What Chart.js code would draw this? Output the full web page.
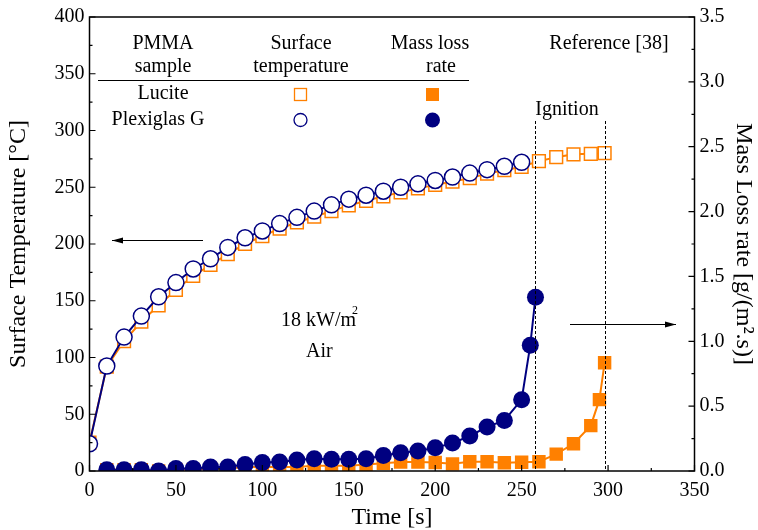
<!DOCTYPE html>
<html>
<head>
<meta charset="utf-8">
<script src="https://cdn.jsdelivr.net/npm/chart.js@4.4.1/dist/chart.umd.min.js"></script>
<style>
  body { margin: 0; background: #fff; }
  canvas { display: block; }
</style>
</head>
<body>
<canvas id="grafico" width="758" height="530"></canvas>
<script>
// Dados
const tempoPlexiT = [0, 10, 20, 30, 40, 50, 60, 70, 80, 90, 100, 110, 120, 130, 140, 150, 160, 170, 180, 190, 200, 210, 220, 230, 240, 250];
const tempPlexi = [24, 92.5, 118, 136.5, 153.5, 166, 178, 187, 197, 205.5, 211.5, 218, 223.5, 229, 234.5, 239.5, 243, 246.5, 250, 253, 256, 259, 262.5, 265.5, 268.5, 272];

const tempoLuciteT = [0, 10, 20, 30, 40, 50, 60, 70, 80, 90, 100, 110, 120, 130, 140, 150, 160, 170, 180, 190, 200, 210, 220, 230, 240, 250, 260, 270, 280, 290, 298];
const tempLucite = [25, 92, 114.5, 131.5, 146, 159.5, 172, 181.5, 191, 200, 207, 213.5, 219, 224, 229, 234, 238, 242, 245.5, 249, 252, 255, 258, 262, 265, 268, 273, 276.5, 279, 279.5, 280];

const tempoPlexiM = [10, 20, 30, 40, 50, 60, 70, 80, 90, 100, 110, 120, 130, 140, 150, 160, 170, 180, 190, 200, 210, 220, 230, 240, 250, 255, 258];
const mlrPlexi = [0.01, 0.01, 0.01, 0.0, 0.02, 0.02, 0.03, 0.03, 0.05, 0.065, 0.07, 0.085, 0.095, 0.09, 0.09, 0.095, 0.12, 0.14, 0.155, 0.18, 0.215, 0.27, 0.34, 0.39, 0.55, 0.97, 1.34];

const tempoLuciteM = [10, 20, 30, 40, 50, 60, 70, 80, 90, 100, 110, 120, 130, 140, 150, 160, 170, 180, 190, 200, 210, 220, 230, 240, 250, 260, 270, 280, 290, 295, 298];
const mlrLucite = [0.01, 0.01, 0.01, 0.0, 0.01, 0.01, 0.02, 0.02, 0.03, 0.03, 0.03, 0.03, 0.04, 0.04, 0.04, 0.05, 0.06, 0.07, 0.07, 0.065, 0.055, 0.072, 0.072, 0.064, 0.068, 0.072, 0.13, 0.21, 0.35, 0.55, 0.835];

const ignicao = [258, 298];

// Cores
const azul = '#000080';
const laranja = '#ff8000';
const fonte = 'Liberation Serif';

const pares = (xs, ys) => xs.map((x, i) => ({ x: x, y: ys[i] }));

// Ticks internos, moldura, tabela de legenda e anotações
const extras = {
    id: 'extras',
    afterDatasetsDraw(chart) {
        const ctx = chart.ctx;
        const a = chart.chartArea;
        const sx = chart.scales.x, sy = chart.scales.y, sm = chart.scales.y2;
        ctx.save();

        // linhas de ignição (tracejadas)
        ctx.strokeStyle = '#000';
        ctx.lineWidth = 1;
        ctx.setLineDash([3, 2]);
        ignicao.forEach(t => {
            const px = Math.round(sx.getPixelForValue(t)) + 0.5;
            ctx.beginPath();
            ctx.moveTo(px, 121);
            ctx.lineTo(px, a.bottom);
            ctx.stroke();
        });
        ctx.setLineDash([]);

        // moldura
        ctx.lineWidth = 1.5;
        ctx.strokeRect(a.left, a.top, a.right - a.left, a.bottom - a.top);

        // ticks internos
        ctx.lineWidth = 1.2;
        ctx.beginPath();
        for (let v = 0; v <= 350; v += 25) {
            const px = sx.getPixelForValue(v);
            const len = v % 50 === 0 ? 6 : 3;
            ctx.moveTo(px, a.bottom); ctx.lineTo(px, a.bottom - len);
        }
        for (let v = 0; v <= 400; v += 25) {
            const py = sy.getPixelForValue(v);
            const len = v % 50 === 0 ? 6 : 3;
            ctx.moveTo(a.left, py); ctx.lineTo(a.left + len, py);
        }
        for (let v = 0; v <= 3.5; v += 0.25) {
            const py = sm.getPixelForValue(v);
            const len = Math.abs(v * 2 - Math.round(v * 2)) < 1e-6 ? 6 : 3;
            ctx.moveTo(a.right, py); ctx.lineTo(a.right - len, py);
        }
        ctx.stroke();

        // tabela de legenda
        ctx.fillStyle = '#000';
        ctx.font = `20px "${fonte}"`;
        ctx.textAlign = 'center';
        ctx.textBaseline = 'middle';
        ctx.fillText('PMMA', 163, 44);
        ctx.fillText('sample', 163, 67);
        ctx.fillText('Surface', 301, 44);
        ctx.fillText('temperature', 301, 67);
        ctx.fillText('Mass loss', 430, 44);
        ctx.fillText('rate', 441, 67);
        ctx.fillText('Reference [38]', 609, 44);
        ctx.fillText('Lucite', 163, 94);
        ctx.fillText('Plexiglas G', 158, 120);
        ctx.fillText('Ignition', 567, 110);

        ctx.lineWidth = 1.2;
        ctx.beginPath();
        ctx.moveTo(98, 80.5); ctx.lineTo(469, 80.5);
        ctx.stroke();

        ctx.lineWidth = 1.3;
        ctx.strokeStyle = laranja;
        ctx.strokeRect(294.5, 88.5, 12, 12);
        ctx.fillStyle = laranja;
        ctx.fillRect(426, 88, 13, 13);
        ctx.strokeStyle = azul;
        ctx.beginPath();
        ctx.arc(300.5, 120, 6.5, 0, Math.PI * 2);
        ctx.stroke();
        ctx.fillStyle = azul;
        ctx.beginPath();
        ctx.arc(432.5, 120, 7.5, 0, Math.PI * 2);
        ctx.fill();

        // condições do ensaio
        ctx.fillStyle = '#000';
        ctx.textAlign = 'left';
        ctx.fillText('18 kW/m', 281, 321);
        ctx.font = `12px "${fonte}"`;
        ctx.fillText('2', 352, 311);
        ctx.font = `20px "${fonte}"`;
        ctx.fillText('Air', 306, 352);

        // setas
        const seta = (x1, x2, y) => {
            ctx.strokeStyle = '#000';
            ctx.fillStyle = '#000';
            ctx.lineWidth = 1.2;
            ctx.beginPath();
            ctx.moveTo(x1, y); ctx.lineTo(x2, y);
            ctx.stroke();
            const d = Math.sign(x2 - x1);
            ctx.beginPath();
            ctx.moveTo(x2, y);
            ctx.lineTo(x2 - d * 11, y - 3);
            ctx.lineTo(x2 - d * 11, y + 3);
            ctx.closePath();
            ctx.fill();
        };
        seta(203, 112, 240.5);
        seta(570, 676, 324.5);

        ctx.restore();
    }
};

const ctxGrafico = document.getElementById('grafico').getContext('2d');

new Chart(ctxGrafico, {
    type: 'line',
    data: {
        datasets: [
            {
                label: 'Plexiglas G - MLR',
                data: pares(tempoPlexiM, mlrPlexi),
                yAxisID: 'y2',
                borderColor: azul,
                borderWidth: 2,
                pointStyle: 'circle',
                pointRadius: 8.5,
                pointBackgroundColor: azul,
                pointBorderColor: azul,
                pointBorderWidth: 0
            },
            {
                label: 'Plexiglas G - T',
                data: pares(tempoPlexiT, tempPlexi),
                yAxisID: 'y',
                borderColor: azul,
                borderWidth: 2,
                pointStyle: 'circle',
                pointRadius: 8,
                pointBackgroundColor: '#fff',
                pointBorderColor: azul,
                pointBorderWidth: 1.5
            },
            {
                label: 'Lucite - MLR',
                data: pares(tempoLuciteM, mlrLucite),
                yAxisID: 'y2',
                borderColor: laranja,
                borderWidth: 2,
                pointStyle: 'rect',
                pointRadius: 9.5,
                pointBackgroundColor: laranja,
                pointBorderColor: laranja,
                pointBorderWidth: 0
            },
            {
                label: 'Lucite - T',
                data: pares(tempoLuciteT, tempLucite),
                yAxisID: 'y',
                borderColor: laranja,
                borderWidth: 2,
                pointStyle: 'rect',
                pointRadius: 9,
                pointBackgroundColor: '#fff',
                pointBorderColor: laranja,
                pointBorderWidth: 1.5
            }
        ]
    },
    options: {
        responsive: false,
        animation: false,
        layout: { padding: { top: 17, left: 0, right: 0, bottom: 0 } },
        plugins: { legend: { display: false }, tooltip: { enabled: false } },
        scales: {
            x: {
                type: 'linear',
                min: 0, max: 350,
                ticks: { stepSize: 50, color: '#000', font: { family: fonte, size: 20 }, padding: 8, maxRotation: 0 },
                grid: { display: false, drawTicks: false },
                border: { display: false },
                title: { display: true, text: 'Time [s]', color: '#000', font: { family: fonte, size: 24, lineHeight: 1 }, padding: { top: 0, bottom: 0 } },
                afterFit: s => { s.height = 59; }
            },
            y: {
                position: 'left',
                min: 0, max: 400,
                ticks: { stepSize: 50, color: '#000', font: { family: fonte, size: 20 }, padding: 5 },
                grid: { display: false, drawTicks: false },
                border: { display: false },
                title: { display: true, text: 'Surface Temperature [°C]', color: '#000', font: { family: fonte, size: 24 }, padding: { top: 4, bottom: 0 } },
                afterFit: s => { s.width = 89.5; }
            },
            y2: {
                position: 'right',
                min: 0, max: 3.5,
                ticks: { stepSize: 0.5, color: '#000', font: { family: fonte, size: 20 }, padding: 5, callback: v => v.toFixed(1) },
                grid: { display: false, drawTicks: false },
                border: { display: false },
                title: { display: true, text: 'Mass Loss rate [g/(m².s)]', color: '#000', font: { family: fonte, size: 24 }, padding: { top: 0 } },
                afterFit: s => { s.width = 63.5; }
            }
        }
    },
    plugins: [extras]
});
</script>
</body>
</html>
